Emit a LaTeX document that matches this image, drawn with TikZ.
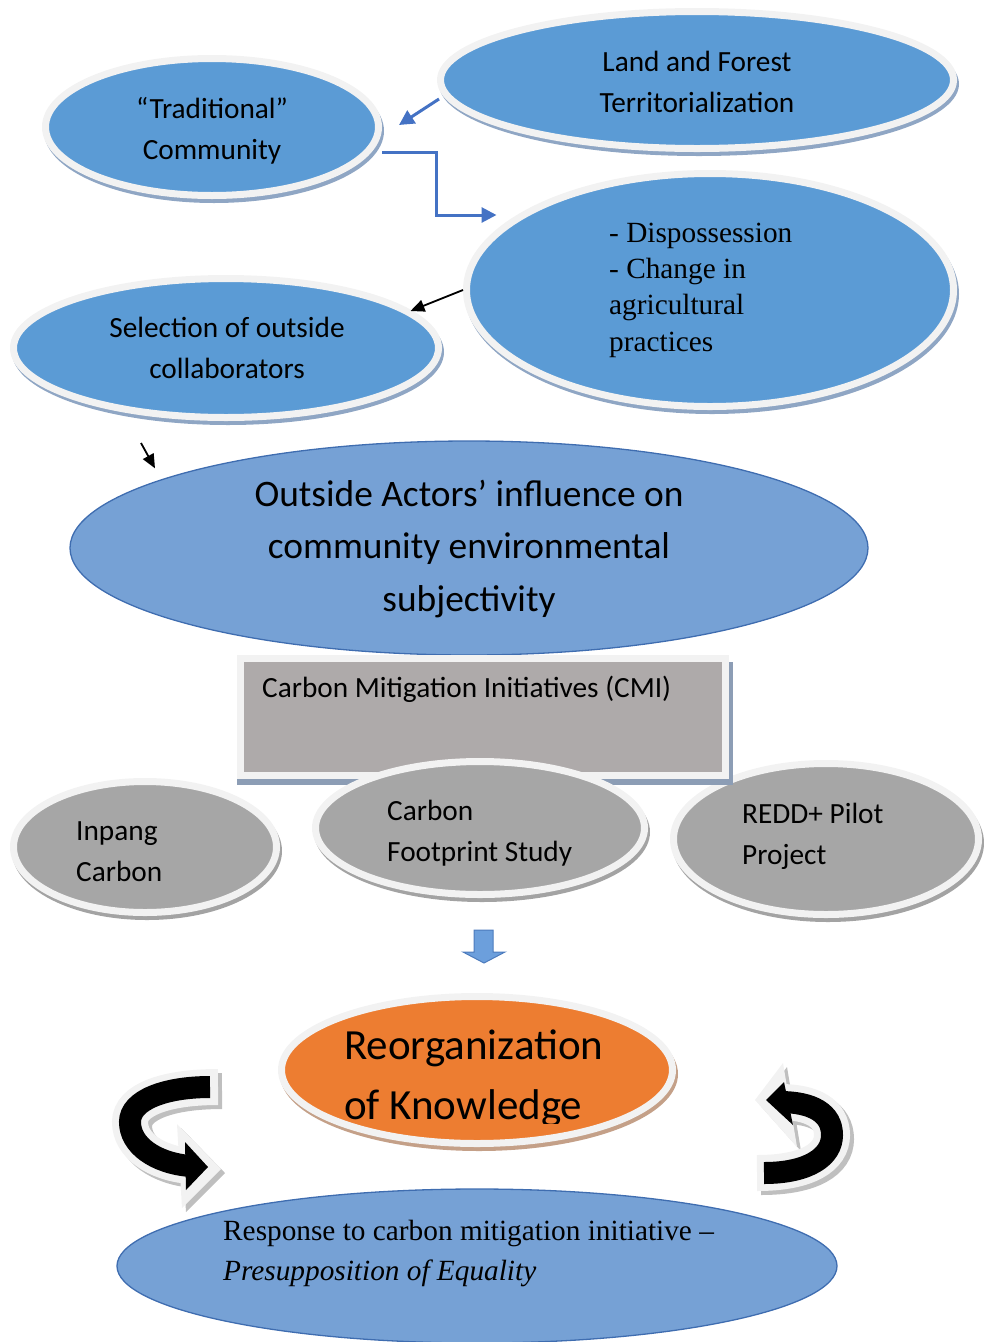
\documentclass[tikz,border=0pt]{standalone}
\usepackage{fontspec}
\setmainfont{Carlito}
\newfontfamily\serifx{Liberation Serif}
\usetikzlibrary{calc,arrows.meta,shapes.geometric}
\definecolor{cblue}{HTML}{5B9BD5}
\definecolor{ringc}{HTML}{F2F2F2}
\definecolor{shblue}{HTML}{8FA6C4}
\definecolor{shgray}{HTML}{A3A3A3}
\definecolor{shrect}{HTML}{8C9DB5}
\definecolor{shorange}{HTML}{C4A088}
\definecolor{gfill}{HTML}{A6A6A6}
\definecolor{rfill}{HTML}{AEAAAA}
\definecolor{ofill}{HTML}{ED7D31}
\definecolor{pfill}{HTML}{76A1D5}
\definecolor{pborder}{HTML}{3F6DB0}
\definecolor{arrblue}{HTML}{4472C4}
\definecolor{dafill}{HTML}{6C9FDC}
\definecolor{daborder}{HTML}{4C7BBD}
\definecolor{bandsh}{HTML}{BFBFBF}
\newcommand\myfs[2]{\fontsize{#1}{#2}\selectfont}
\tikzset{
  frameell/.style={ellipse, draw=ringc, line width=7pt, inner sep=0pt},
  plainell/.style={ellipse, draw=pborder, line width=1.3pt, fill=pfill, inner sep=0pt},
  txt/.style={inner sep=0pt, text=black},
  bluearr/.style={draw=arrblue, line width=3pt, line join=miter, -{Triangle[length=15pt,width=15pt]}},
  blackarr/.style={draw=black, line width=1.8pt, -{Triangle[length=14pt,width=12pt]}},
  bandshadow/.style={draw=bandsh, line width=36pt},
  bandwhite/.style={draw=ringc, line width=36pt},
  bandblack/.style={draw=black, line width=22pt},
}
\begin{document}
\begin{tikzpicture}[x=1pt,y=-1pt]
\useasboundingbox (0,0) rectangle (984,1342);

% --- top ellipses
\fill[shblue] (214,131) ellipse [x radius=170, y radius=72];
\node[frameell, fill=cblue, minimum width=333pt, minimum height=137pt] (trad) at (212,127) {};
\fill[shblue] (699,84) ellipse [x radius=260, y radius=72];
\node[frameell, fill=cblue, minimum width=513pt, minimum height=137pt] (land) at (697,80) {};
\fill[shblue] (712,294) ellipse [x radius=247, y radius=120];
\node[frameell, fill=cblue, minimum width=487pt, minimum height=233pt] (disp) at (710,290) {};
\fill[shblue] (228,352) ellipse [x radius=216, y radius=73];
\node[frameell, fill=cblue, minimum width=425pt, minimum height=139pt] (sel) at (226,348) {};

\node[txt, align=center, font=\myfs{29.3}{41}] (tradt) at (212,131) {“Traditional”\\Community};
\node[txt, align=center, font=\myfs{29.3}{41}] (landt) at (697,82) {Land and Forest\\Territorialization};
\node[txt, align=left, anchor=west, font=\serifx\myfs{29.3}{36.3}] (dispt) at (609,290) {- Dispossession\\- Change in\\agricultural\\practices};
\node[txt, align=center, font=\myfs{29.3}{41}] (selt) at (227,348) {Selection of outside\\collaborators};

% --- outside actors
\node[plainell, minimum width=798pt, minimum height=214pt] (out) at (469,548) {};
\node[txt, align=center, font=\myfs{37.4}{52.5}] (outt) at (469,549) {Outside Actors’ influence on\\community environmental\\subjectivity};

% --- gray ellipses and CMI box
\fill[shgray] (147,851) ellipse [x radius=135, y radius=69];
\node[frameell, fill=gfill, minimum width=263pt, minimum height=131pt] (inp) at (145,847) {};
\fill[shgray] (828,843) ellipse [x radius=156, y radius=79];
\node[frameell, fill=gfill, minimum width=305pt, minimum height=151pt] (redd) at (826,839) {};
\fill[shrect] (237,662) rectangle (733,785);
\node[rectangle, draw=ringc, line width=7pt, fill=rfill, inner sep=0pt, minimum width=485pt, minimum height=117pt] (cmi) at (483,717) {};
\fill[shgray] (482,832) ellipse [x radius=168, y radius=70];
\node[frameell, fill=gfill, minimum width=329pt, minimum height=133pt] (cfs) at (480,828) {};

\node[txt, anchor=west, font=\myfs{29.3}{34}] (cmit) at (262,689) {Carbon Mitigation Initiatives (CMI)};
\node[txt, align=left, anchor=west, font=\myfs{29.3}{41}] (inpt) at (76,852) {Inpang\\Carbon};
\node[txt, align=left, anchor=west, font=\myfs{29.3}{41}] (cfst) at (387,833) {Carbon\\Footprint Study};
\node[txt, align=left, anchor=west, font=\myfs{29.3}{41}] (reddt) at (742,836) {REDD+ Pilot\\Project};

% --- block arrow down
\draw[draw=daborder, fill=dafill, line width=1pt, line join=miter]
  (474,930) -- (493,930) -- (493,952) -- (505,952) -- (484,963) -- (463,952) -- (474,952) -- cycle;

% --- reorganization
\fill[shorange] (479,1074) ellipse [x radius=199, y radius=77];
\node[frameell, fill=ofill, minimum width=391pt, minimum height=147pt] (reorg) at (477,1070) {};
\begin{scope}
\clip (0,0) rectangle (984,1123);
\node[txt, align=left, anchor=west, font=\myfs{43}{60}] (reorgt) at (344,1078) {Reorganization\\of Knowledge};
\end{scope}

% --- response
\node[plainell, minimum width=720pt, minimum height=154pt] (resp) at (477,1266) {};
\node[txt, align=left, anchor=west, font=\serifx\myfs{29.3}{40}] (respt) at (223,1253) {Response to carbon mitigation initiative –\\\textit{Presupposition of Equality}};

% --- connectors
\coordinate (a1e) at ($(trad.east)+(17,-2)$);
\draw[bluearr] ($(land.west)+(2,19)$) -- (a1e);
\coordinate (a2s) at ($(trad.east)+(0,25)$);
\coordinate (a2e) at ($(disp.west)+(33.5,-75)$);
\draw[bluearr] (a2s) -| ($(a2e)+(-60,0)$) -- (a2e);
\coordinate (a3e) at ($(sel.east)+(-31.5,-37)$);
\draw[blackarr] (disp.west) -- (a3e);
\coordinate (a4s) at ($(sel.south)+(-85,22)$);
\coordinate (a4e) at ($(out.north)+(-314,28)$);
\draw[blackarr] (a4s) -- (a4e);

% --- left curved arrow
\begin{scope}[shift={(4,4)}]
\draw[bandshadow, shorten <=-8pt] (210,1087) .. controls (165,1087) and (130,1100) .. (130,1122) .. controls (130,1145) and (155,1163) .. (190,1166);
\fill[bandsh] (177,1124) -- (221,1169) -- (182,1208) -- cycle;
\end{scope}
\draw[bandwhite, shorten <=-8pt] (210,1087) .. controls (165,1087) and (130,1100) .. (130,1122) .. controls (130,1145) and (155,1163) .. (190,1166);
\fill[ringc] (177,1124) -- (221,1169) -- (182,1208) -- cycle;
\draw[bandblack] (210,1087) .. controls (165,1087) and (130,1100) .. (130,1122) .. controls (130,1145) and (155,1163) .. (190,1166);
\fill[black] (185,1142) -- (208,1167) -- (186,1190) -- cycle;

% --- right curved arrow
\begin{scope}[shift={(4,4)}]
\draw[bandshadow, shorten <=-7pt] (764,1173) .. controls (808,1173) and (832,1157) .. (832,1135) .. controls (832,1113) and (812,1102) .. (780,1102);
\fill[bandsh] (783,1063) -- (755,1100) -- (797,1147) -- cycle;
\end{scope}
\draw[bandwhite, shorten <=-7pt] (764,1173) .. controls (808,1173) and (832,1157) .. (832,1135) .. controls (832,1113) and (812,1102) .. (780,1102);
\fill[ringc] (783,1063) -- (755,1100) -- (797,1147) -- cycle;
\draw[bandblack] (764,1173) .. controls (808,1173) and (832,1157) .. (832,1135) .. controls (832,1113) and (812,1102) .. (780,1102);
\fill[black] (784,1082) -- (766,1100) -- (793,1125) -- cycle;
\end{tikzpicture}
\end{document}
